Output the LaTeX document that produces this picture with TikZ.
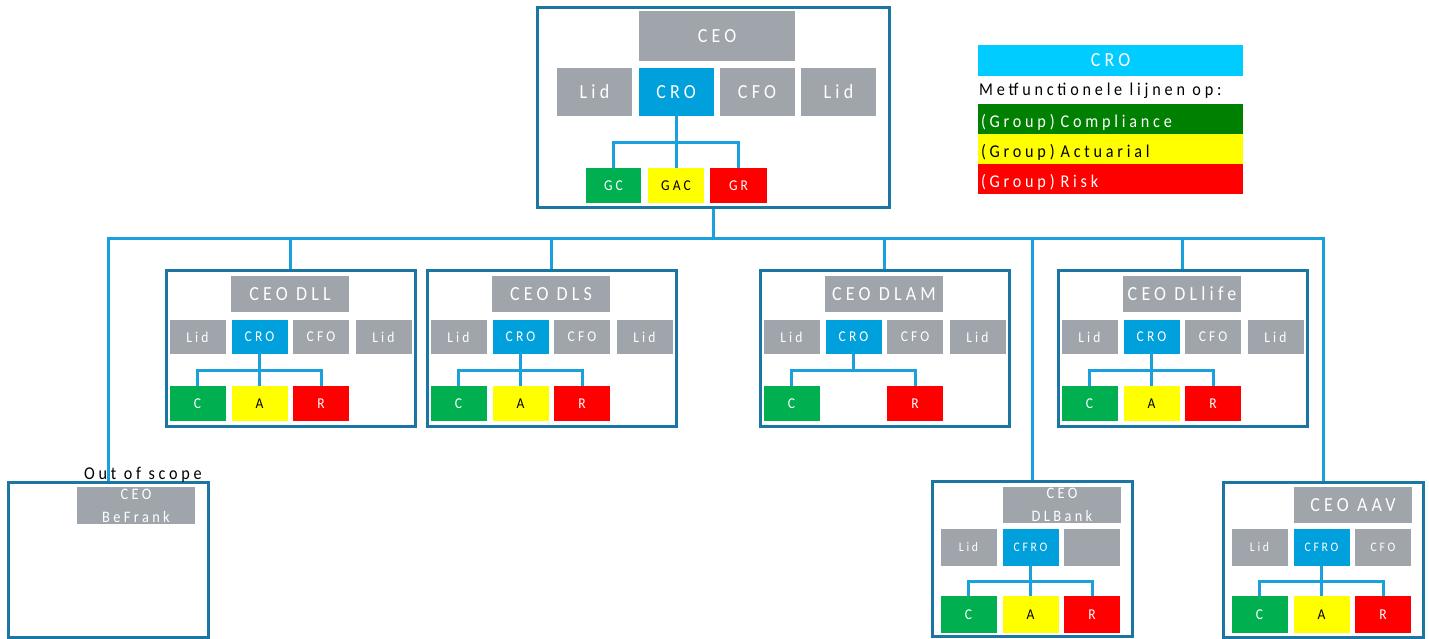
\documentclass[tikz,border=0pt]{standalone}
\usepackage{fontspec}
\setmainfont{Carlito}[FakeStretch=0.9,LetterSpace=21]
\definecolor{framecol}{RGB}{28,118,164}
\definecolor{linkcol}{RGB}{27,160,222}
\definecolor{grey}{RGB}{160,165,171}
\definecolor{croblue}{RGB}{0,160,220}
\definecolor{legcyan}{RGB}{0,204,255}
\definecolor{leggreen}{RGB}{0,128,0}
\definecolor{cgreen}{RGB}{0,176,80}
\definecolor{ayellow}{RGB}{255,255,0}
\definecolor{rred}{RGB}{255,0,0}
\newcommand{\fbig}{\fontsize{20}{24}\selectfont}
\newcommand{\fhead}{\fontsize{20}{22}\selectfont}
\newcommand{\fleg}{\fontsize{18}{22}\selectfont}
\newcommand{\ftwo}{\fontsize{16}{23}\selectfont}
\newcommand{\frow}{\fontsize{15}{18}\selectfont}
\newcommand{\fsml}{\fontsize{13}{16}\selectfont}
\begin{document}
\begin{tikzpicture}[x=1pt,y=-1pt]
% Styles
\tikzstyle{frame}=[draw=framecol,line width=3pt,fill=white,inner sep=0]
\tikzstyle{box}=[inner sep=0,text=white,align=center]
\tikzstyle{rowbox}=[box,minimum width=56,minimum height=34,font=\frow]
\tikzstyle{funcbox}=[box,minimum width=56,minimum height=35,font=\frow]
\tikzstyle{lowbox}=[box,minimum width=56,minimum height=37,font=\fsml]
\tikzstyle{legend}=[inner xsep=3pt,inner ysep=0,text width=259,align=left,minimum height=30,text height=17pt,text depth=0pt,font=\fleg]
\tikzstyle{link}=[draw=linkcol,line width=3pt]

\useasboundingbox (0,0) rectangle (1429,638);

% Top board
\node[frame,minimum width=352,minimum height=200] (top) at (713,107) {};
\node[box,fill=grey,minimum width=156,minimum height=50,font=\fbig] (top-ceo) at (717,36) {CEO};
\node[box,fill=grey,minimum width=75,minimum height=48,font=\fbig] (top-lid1) at (594.5,92) {Lid};
\node[box,fill=croblue,minimum width=75,minimum height=48,font=\fbig] (top-cro) at (676,92) {CRO};
\node[box,fill=grey,minimum width=75,minimum height=48,font=\fbig] (top-cfo) at (757,92) {CFO};
\node[box,fill=grey,minimum width=75,minimum height=48,font=\fbig] (top-lid2) at (838.5,92) {Lid};
\node[funcbox,fill=cgreen,minimum width=55] (top-gc) at (613.5,185.5) {GC};
\node[funcbox,fill=ayellow,text=black] (top-gac) at (676,185.5) {GAC};
\node[funcbox,fill=rred,minimum width=57] (top-gr) at (738.5,185.5) {GR};
\foreach \c in {gc,gac,gr}
  \draw[link] (top-cro.south) -- ++(0,26) -| (top-\c.north);

% Legend
\node[box,fill=legcyan,minimum width=265,minimum height=31,font=\fhead] (leg-cro) at (1110.5,60.5) {CRO};
\node[anchor=west,inner sep=0,font=\fleg] (leg-text) at (979,91) {Metfunctionele lijnen op:};
\node[legend,fill=leggreen,text=white] (leg-c) at (1110.5,118.5) {(Group) Compliance};
\node[legend,fill=ayellow,text=black] (leg-a) at (1110.5,149) {(Group) Actuarial};
\node[legend,fill=rred,text=white] (leg-r) at (1110.5,178.5) {(Group) Risk};

% Subsidiaries, middle row
\foreach \L/\n/\t in {166/dll/DLL,427/dls/DLS,760/dlam/DLAM,1058/dllife/DLlife}{
  \node[frame,minimum width=249,minimum height=156] (\n) at (\L+124.5,348) {};
  \node[box,fill=grey,minimum width=118,minimum height=36,font=\fhead] (\n-ceo) at (\L+124,294) {CEO \t};
  \node[rowbox,fill=grey] (\n-lid1) at (\L+31.5,337) {Lid};
  \node[rowbox,fill=croblue] (\n-cro) at (\L+93.5,337) {CRO};
  \node[rowbox,fill=grey] (\n-cfo) at (\L+155,337) {CFO};
  \node[rowbox,fill=grey] (\n-lid2) at (\L+217.5,337) {Lid};
  \node[funcbox,fill=cgreen] (\n-c) at (\L+31.5,403.5) {C};
  \node[funcbox,fill=rred] (\n-r) at (\L+155,403.5) {R};
  \draw[link] (\n-cro.south) -- ++(0,16) -| (\n-c.north);
  \draw[link] (\n-cro.south) -- ++(0,16) -| (\n-r.north);
}
\foreach \n in {dll,dls,dllife}{
  \node[funcbox,fill=ayellow,text=black] (\n-a) at (\n-cro |- \n-c) {A};
  \draw[link] (\n-cro.south) -- (\n-a.north);
}

% Subsidiaries, bottom row
\node[frame,minimum width=200,minimum height=155] (befrank) at (108,559.5) {};
\node[box,fill=grey,minimum width=118,minimum height=37,font=\ftwo] (befrank-ceo) at (136,505.5) {CEO\\BeFrank};
\node[font=\fleg,inner sep=0] (scope) at (143,474.5) {Out of scope};

\node[frame,minimum width=200,minimum height=155] (dlbank) at (1032,558.5) {};
\node[box,fill=grey,minimum width=118,minimum height=36,font=\ftwo] (dlbank-ceo) at (1062,505) {CEO\\DLBank};
\node[lowbox,fill=grey] (dlbank-lid) at (968.5,547.5) {Lid};
\node[lowbox,fill=croblue] (dlbank-cro) at (1030.5,547.5) {CFRO};
\node[lowbox,fill=grey] (dlbank-leeg) at (1092,547.5) {};
\node[lowbox,fill=cgreen,font=\frow] (dlbank-c) at (968.5,614.5) {C};
\node[lowbox,fill=ayellow,text=black,font=\frow] (dlbank-a) at (1030.5,614.5) {A};
\node[lowbox,fill=rred,font=\frow] (dlbank-r) at (1092,614.5) {R};

\node[frame,minimum width=200,minimum height=155] (aav) at (1323.5,559.5) {};
\node[box,fill=grey,minimum width=118,minimum height=36,font=\fhead] (aav-ceo) at (1353,505) {CEO AAV};
\node[lowbox,fill=grey] (aav-lid) at (1259.5,547.5) {Lid};
\node[lowbox,fill=croblue] (aav-cro) at (1321.5,547.5) {CFRO};
\node[lowbox,fill=grey] (aav-cfo) at (1383,547.5) {CFO};
\node[lowbox,fill=cgreen,font=\frow] (aav-c) at (1259.5,614.5) {C};
\node[lowbox,fill=ayellow,text=black,font=\frow] (aav-a) at (1321.5,614.5) {A};
\node[lowbox,fill=rred,font=\frow] (aav-r) at (1383,614.5) {R};
\foreach \n in {dlbank,aav}
  \foreach \c in {c,a,r}
    \draw[link] (\n-cro.south) -- ++(0,15) -| (\n-\c.north);

% Bus from the top board
\foreach \n in {befrank,dll,dls,dlam,dlbank,dllife,aav}
  \draw[link] (top.south) -- ++(0,30) -| (\n.north);
\end{tikzpicture}
\end{document}
